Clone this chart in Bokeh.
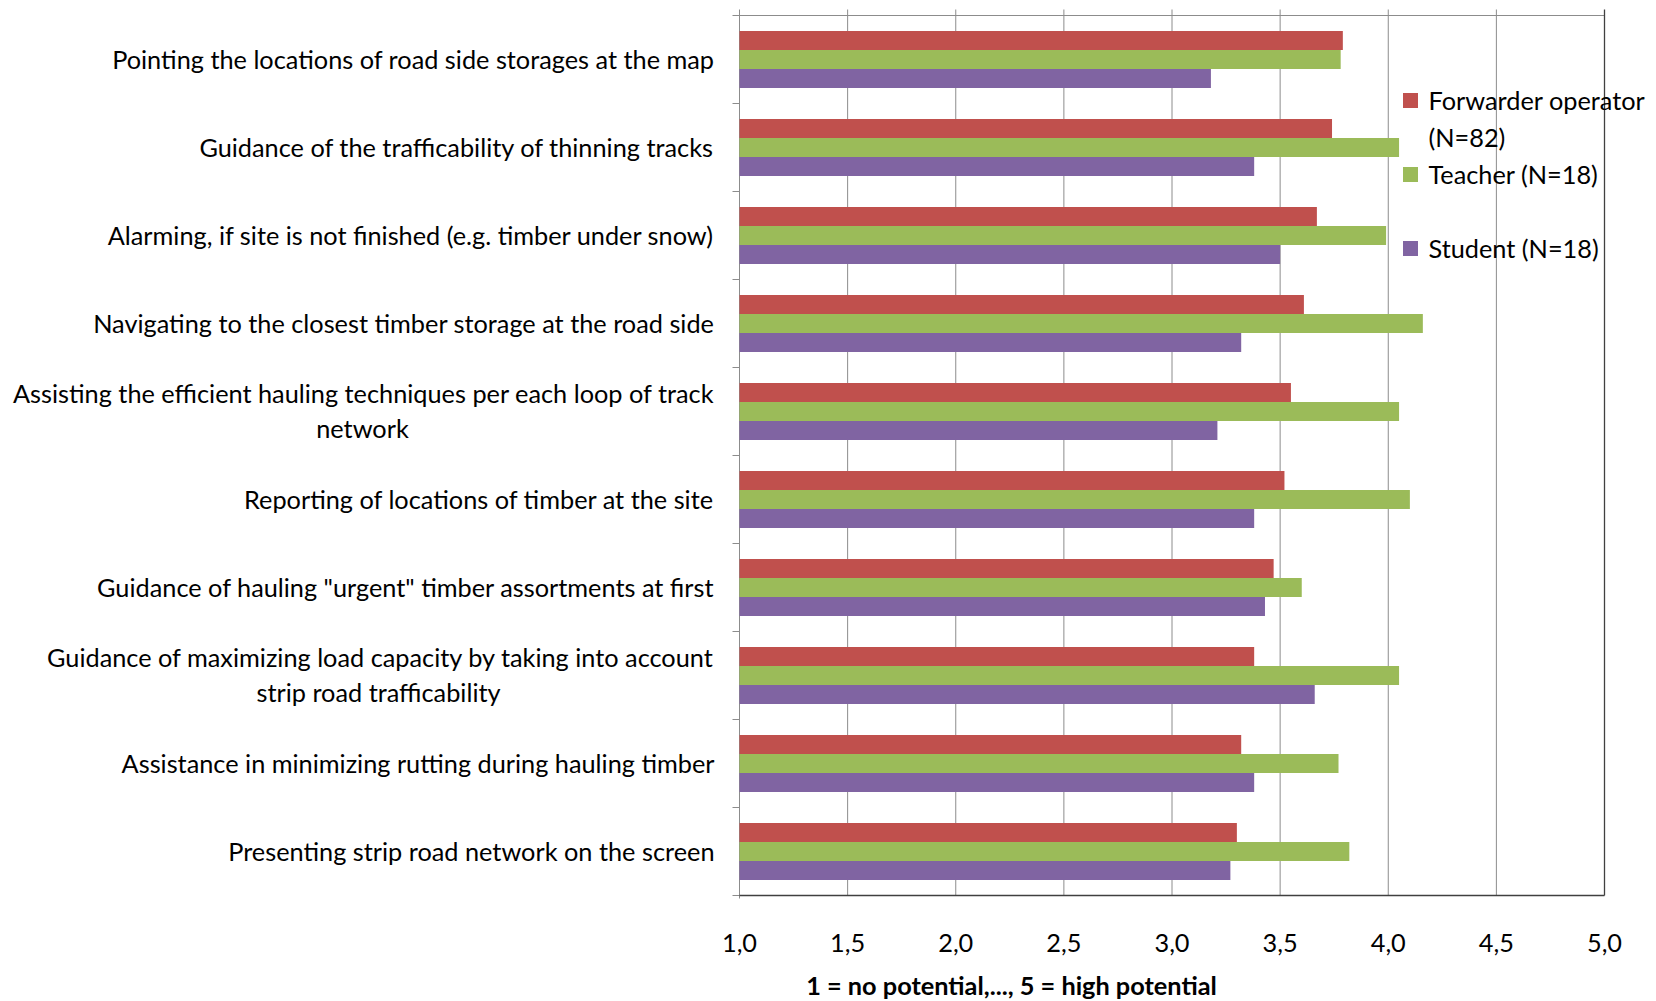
from bokeh.plotting import figure
from bokeh.models import Range1d, Label, ColumnDataSource
from bokeh.transform import dodge
from bokeh.embed import file_html
from bokeh.resources import INLINE

# ---------------- data ----------------
categories = [
    "Pointing the locations of road side storages at the map",
    "Guidance of the trafficability of thinning tracks",
    "Alarming, if site is not finished (e.g. timber under snow)",
    "Navigating to the closest timber storage at the road side",
    "Assisting the efficient hauling techniques per each loop of track\nnetwork",
    "Reporting of locations of timber at the site",
    'Guidance of hauling "urgent" timber assortments at first',
    "Guidance of maximizing load capacity by taking into account\nstrip road trafficability",
    "Assistance in minimizing rutting during hauling timber",
    "Presenting strip road network on the screen",
]
forwarder = [3.79, 3.74, 3.67, 3.61, 3.55, 3.52, 3.47, 3.38, 3.32, 3.30]
teacher = [3.78, 4.05, 3.99, 4.16, 4.05, 4.10, 3.60, 4.05, 3.77, 3.82]
student = [3.18, 3.38, 3.50, 3.32, 3.21, 3.38, 3.43, 3.66, 3.38, 3.27]
series_labels = [["Forwarder operator", "(N=82)"], ["Teacher (N=18)"], ["Student (N=18)"]]
x_ticks = [1.0, 1.5, 2.0, 2.5, 3.0, 3.5, 4.0, 4.5, 5.0]
x_tick_labels = ["1,0", "1,5", "2,0", "2,5", "3,0", "3,5", "4,0", "4,5", "5,0"]
x_title = "1 = no potential,..., 5 = high potential"

# ---------------- style / layout ----------------
RED, GREEN, PURPLE = "#C0504D", "#9BBB59", "#8064A2"
GRAY = "#8C8C8C"
DARK = "#404040"
FONT = "Lato"
FS = "25.3px"
W, H = 1656, 1001
FL, FR, PT, PB = 739, 1604, 15, 895      # plot-area edges (px)
X0, X1 = 1.0, 5.0
n = len(categories)
U = (FR - FL) / (X1 - X0)                # px per value unit
V = (PB - PT) / n                        # px per category


def px_x(px):
    return X0 + (px - FL) / U


def px_y(py):
    return (PB - py) / V


# the drawing frame covers the whole canvas; the value scale maps 1..5 onto the plot area
p = figure(width=W, height=H, title=None,
           x_range=Range1d(px_x(0), px_x(W)), y_range=Range1d(px_y(H), px_y(0)),
           output_backend="svg", toolbar_location=None,
           x_axis_location=None, y_axis_location=None,
           min_border_left=0, min_border_right=0,
           min_border_top=0, min_border_bottom=0)
p.outline_line_color = None
p.background_fill_color = "white"
p.border_fill_color = "white"
p.grid.visible = False


def text(x, y, t, align="left", bold=False):
    p.add_layout(Label(x=x, y=y, text=t, text_align=align, text_baseline="middle",
                       text_font=FONT, text_font_size=FS,
                       text_font_style="bold" if bold else "normal",
                       text_color="black"))


# grid lines (extend 6 px above the top axis line as tick marks)
top_tick = px_y(PT - 6)
inner = x_ticks[1:-1]
p.segment(x0=inner, y0=[0] * len(inner), x1=inner, y1=[top_tick] * len(inner),
          line_color=GRAY, line_width=1)
# top value-axis line
p.segment(x0=[X0], y0=[n], x1=[X1], y1=[n], line_color=GRAY, line_width=1)
# category axis line and boundary ticks
p.segment(x0=[X0], y0=[px_y(PB + 3)], x1=[X0], y1=[top_tick], line_color=GRAY, line_width=1)
bounds = list(range(n + 1))
p.segment(x0=[px_x(FL - 7)] * len(bounds), y0=bounds, x1=[X0] * len(bounds), y1=bounds,
          line_color=GRAY, line_width=1)
# right and bottom border
p.segment(x0=[X1], y0=[0], x1=[X1], y1=[top_tick], line_color=DARK, line_width=1.3)
p.segment(x0=[X0], y0=[0], x1=[X1], y1=[0], line_color=DARK, line_width=1.6)

# value tick labels and axis title
for tv, tl in zip(x_ticks, x_tick_labels):
    text(tv, px_y(942), tl, align="center")
text(px_x(1011), px_y(984), x_title, align="center", bold=True)

# bars
ypos = [n - 0.5 - i for i in range(n)]
src = ColumnDataSource(dict(y=ypos, forwarder=forwarder, teacher=teacher, student=student))
BAR_H = 0.216
for field, color, off in [("forwarder", RED, BAR_H), ("teacher", GREEN, 0.0),
                          ("student", PURPLE, -BAR_H)]:
    p.hbar(y=dodge("y", off), left=X0, right=field, height=BAR_H, source=src,
           fill_color=color, line_color=None)

# category labels
line_dy = 17.4 / V
lift = 1.0 / V
second_line_center = {4: 362, 7: 378}
for i, cat in enumerate(categories):
    parts = cat.split("\n")
    if len(parts) == 1:
        text(px_x(714), ypos[i] + lift, cat, align="right")
    else:
        text(px_x(714), ypos[i] + line_dy + lift, parts[0], align="right")
        text(px_x(second_line_center[i]), ypos[i] - line_dy + lift, parts[1], align="center")

# legend
leg_rows = [100, 174, 248]
colors = [RED, GREEN, PURPLE]
p.scatter(x=[px_x(1410)] * 3, y=[px_y(r) for r in leg_rows], marker="square",
          size=15, fill_color=colors, line_color=None)
for r, lines in zip(leg_rows, series_labels):
    for k, t in enumerate(lines):
        text(px_x(1428), px_y(r - 1 + 37 * k), t)

open("out.html", "w").write(file_html(p, INLINE))
